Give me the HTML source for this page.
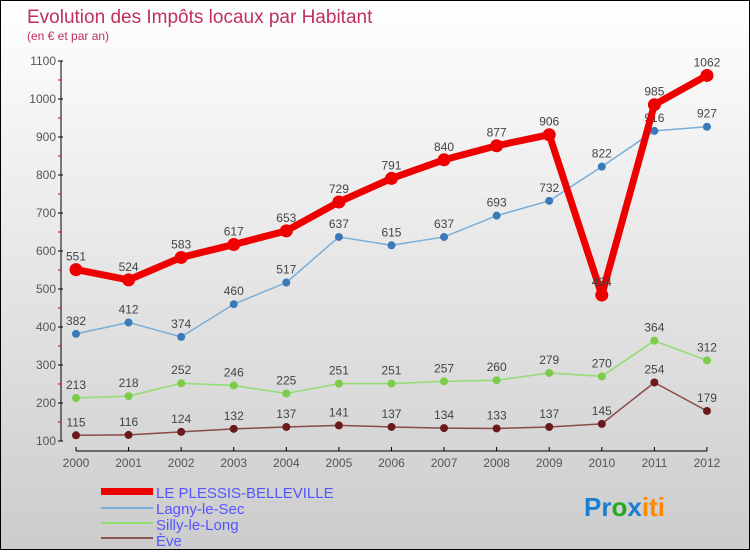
<!DOCTYPE html>
<html><head><meta charset="utf-8"><style>
html,body{margin:0;padding:0}
body{width:750px;height:550px;overflow:hidden;font-family:"Liberation Sans",sans-serif}
#c{position:absolute;left:0;top:0;width:748px;height:548px;border:1px solid #000;background:linear-gradient(#fff,#ccc)}
</style></head><body>
<div id="c">
<svg id="s" width="748" height="548" xmlns="http://www.w3.org/2000/svg" font-family="Liberation Sans, sans-serif">
<text x="26" y="22" font-size="19" fill="#c0305a">Evolution des Impôts locaux par Habitant</text>
<text x="26" y="39" font-size="12" fill="#c0305a">(en € et par an)</text>
<g id="axes"></g><g id="series"></g>
<g>
<rect x="100" y="487" width="52" height="7" fill="#e00"/>
<text x="155" y="497" font-size="15" fill="#55f">LE PLESSIS-BELLEVILLE</text>
<line x1="100" y1="507" x2="152" y2="507" stroke="#7aaed6" stroke-width="2"/>
<text x="155" y="513" font-size="15" fill="#55f">Lagny-le-Sec</text>
<line x1="100" y1="522" x2="152" y2="522" stroke="#90dd70" stroke-width="2"/>
<text x="155" y="529" font-size="15" fill="#55f">Silly-le-Long</text>
<line x1="100" y1="537" x2="152" y2="537" stroke="#8a5555" stroke-width="2"/>
<text x="155" y="545" font-size="15" fill="#55f">Ève</text>
</g>
<g font-size="26" font-weight="bold">
<text x="583" y="515"><tspan fill="#1a7fd0">Pr</tspan><tspan fill="#2a2">o</tspan><tspan fill="#1a7fd0">x</tspan><tspan fill="#f80">iti</tspan></text>
</g>
</svg></div>
<script>
const years=[2000,2001,2002,2003,2004,2005,2006,2007,2008,2009,2010,2011,2012];
const yTicks=[100,200,300,400,500,600,700,800,900,1000,1100];
const plessis=[551,524,583,617,653,729,791,840,877,906,484,985,1062];
const lagny=[382,412,374,460,517,637,615,637,693,732,822,916,927];
const silly=[213,218,252,246,225,251,251,257,260,279,270,364,312];
const eve=[115,116,124,132,137,141,137,134,133,137,145,254,179];
const NS="http://www.w3.org/2000/svg";
const X=i=>75+i*52.58, Y=v=>440-(v-100)*0.38;
function mk(tag,attrs,parent,txt){const e=document.createElementNS(NS,tag);for(const k in attrs)e.setAttribute(k,attrs[k]);if(txt!==undefined)e.textContent=txt;parent.appendChild(e);return e;}
const ax=document.getElementById('axes');
let yl=mk('line',{x1:60,y1:60,x2:60,y2:440,stroke:'#000'},ax);


let xl=mk('line',{x1:75,y1:450,x2:706,y2:450,stroke:'#000'},ax);


yTicks.forEach(v=>{
 mk('line',{x1:57,y1:Y(v),x2:62,y2:Y(v),stroke:'#000'},ax);
 if(v<1100)mk('line',{x1:57,y1:Y(v+50),x2:60,y2:Y(v+50),stroke:'#d00'},ax);
 const t=mk('text',{x:55,y:Y(v)+4,'font-size':12,fill:'#555','text-anchor':'end'},ax,v);
 
 
});
years.forEach((y,i)=>{
 mk('line',{x1:X(i),y1:446,x2:X(i),y2:450,stroke:'#000'},ax);
 const t=mk('text',{x:X(i),y:466,'font-size':12,fill:'#555','text-anchor':'middle'},ax,y);
 
 
});
const sg=document.getElementById('series');
function draw(vals,color,w,r,dot,name,labelAbove){
 const g=mk('g',{},sg);
 
 
 const l=mk('polyline',{points:vals.map((v,i)=>X(i)+','+Y(v)).join(' '),fill:'none',stroke:color,'stroke-width':w,'stroke-linejoin':'round'},g);
 
 
 vals.forEach((v,i)=>{
  const c=mk('circle',{cx:X(i),cy:Y(v),r:r,fill:dot},g);
  
  
  const t=mk('text',{x:X(i),y:Y(v)-9,'font-size':12,fill:'#444','text-anchor':'middle'},g,v);
  
  
 });
}
draw(eve,'#8a4a4a',1.5,4,'#6a1a1a','series-eve');
draw(silly,'#90dd70',1.5,4,'#7ccc4a','series-silly');
draw(lagny,'#7aaed6',1.5,4,'#3a7ab8','series-lagny');
draw(plessis,'#ee0000',7,6.5,'#ee0000','series-plessis');
</script>
</body></html>
